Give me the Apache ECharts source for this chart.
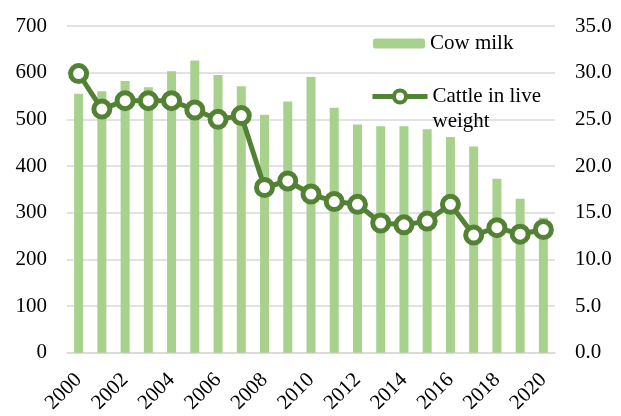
<!DOCTYPE html>
<html>
<head>
<meta charset="utf-8">
<script src="https://cdn.jsdelivr.net/npm/echarts@6/dist/echarts.min.js"></script>
<style>
  html, body { margin: 0; padding: 0; background: #fff; }
  #chart { width: 621px; height: 416px; }
</style>
</head>
<body>
<div id="chart"></div>
<script>
const years = ['2000', '2001', '2002', '2003', '2004', '2005', '2006', '2007', '2008', '2009', '2010',
  '2011', '2012', '2013', '2014', '2015', '2016', '2017', '2018', '2019', '2020'];
const cowMilk = [555, 560, 582, 569, 603, 626, 595, 571, 510, 538, 591,
  525, 489, 485, 485, 479, 462, 442, 373, 330, 289];
const cattleLiveWeight = [29.9, 26.1, 27.0, 27.0, 27.0, 26.0, 25.0, 25.4, 17.7, 18.4, 17.0,
  16.2, 15.9, 13.9, 13.7, 14.1, 15.9, 12.6, 13.4, 12.7, 13.2];

const font = 'Liberation Serif';
const fontSize = 21;
const gridColor = '#d9d9d9';
const darkGreen = '#548235';

const chart = echarts.init(document.getElementById('chart'));
chart.setOption({
  backgroundColor: '#fff',
  animation: false,
  textStyle: { fontFamily: font, color: '#000' },
  grid: { left: 67, right: 66, top: 26, bottom: 63 },
  legend: [
    {
      data: ['Cow milk'],
      left: 373,
      top: 31,
      padding: 0,
      itemWidth: 52,
      itemHeight: 10,
      textStyle: { fontFamily: font, fontSize: fontSize, color: '#000', lineHeight: 25 }
    },
    {
      data: ['Cattle in live weight'],
      left: 370,
      top: 59,
      padding: 0,
      itemWidth: 55,
      itemHeight: 15,
      lineStyle: { width: 5, color: darkGreen },
      itemStyle: { color: '#fff', borderColor: darkGreen, borderWidth: 4 },
      // blank first line keeps the icon level with the first text line
      formatter: () => '\nCattle in live\nweight',
      textStyle: { fontFamily: font, fontSize: fontSize, color: '#000', lineHeight: 25 }
    }
  ],
  xAxis: {
    type: 'category',
    data: years,
    axisLine: { lineStyle: { color: gridColor, width: 1.5 } },
    axisTick: { show: false },
    axisLabel: { interval: 1, rotate: 45, margin: 24, fontFamily: font, fontSize: fontSize, color: '#000' }
  },
  yAxis: [
    {
      type: 'value',
      min: 0,
      max: 700,
      interval: 100,
      axisLine: { show: false },
      axisTick: { show: false },
      splitLine: { lineStyle: { color: gridColor, width: 1.5 } },
      axisLabel: { margin: 20, fontFamily: font, fontSize: fontSize, color: '#000' }
    },
    {
      type: 'value',
      min: 0,
      max: 35,
      interval: 5,
      axisLine: { show: false },
      axisTick: { show: false },
      splitLine: { show: false },
      axisLabel: {
        margin: 20, fontFamily: font, fontSize: fontSize, color: '#000',
        formatter: v => v.toFixed(1)
      }
    }
  ],
  series: [
    {
      name: 'Cow milk',
      type: 'bar',
      data: cowMilk,
      barWidth: 9,
      itemStyle: { color: '#a9d18e' }
    },
    {
      name: 'Cattle in live weight',
      type: 'line',
      yAxisIndex: 1,
      data: cattleLiveWeight,
      symbol: 'circle',
      symbolSize: 16,
      showAllSymbol: true,
      lineStyle: { color: darkGreen, width: 5 },
      itemStyle: { color: '#fff', borderColor: darkGreen, borderWidth: 5 },
      z: 3
    }
  ]
});
</script>
</body>
</html>
